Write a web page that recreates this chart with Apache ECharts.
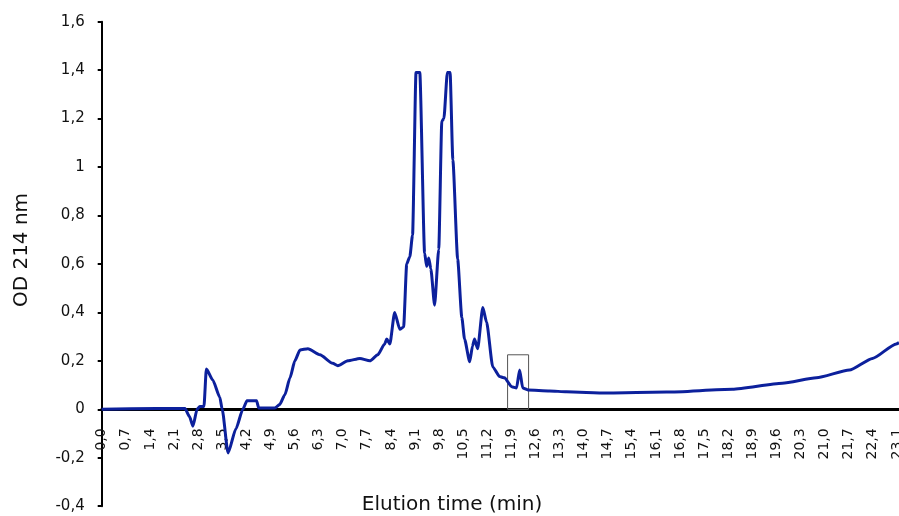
<!DOCTYPE html>
<html>
<head>
<meta charset="utf-8">
<script src="https://cdn.jsdelivr.net/npm/echarts@6/dist/echarts.min.js"></script>
<style>
  html, body { margin: 0; padding: 0; background: #fff; }
  #chart { width: 899px; height: 516px; }
</style>
</head>
<body>
<div id="chart"></div>
<script>
"use strict";
// elution time (min) and OD 214 nm
const times = [0, 1.6, 2.42, 2.55, 2.65, 2.77, 2.85, 2.97, 3.04, 3.23, 3.43, 3.5, 3.67, 3.9, 4.1, 4.22, 4.5, 4.56,
  5.03, 5.17, 5.32, 5.47, 5.61, 5.76, 5.99, 6.34, 6.71, 6.86, 7.15, 7.5, 7.79, 8.02, 8.22, 8.28, 8.37, 8.51,
  8.66, 8.77, 8.86, 8.95, 9.03, 9.13, 9.24, 9.38, 9.44, 9.5, 9.56, 9.67, 9.79, 9.88, 9.94, 10.04, 10.12, 10.2,
  10.34, 10.46, 10.54, 10.69, 10.77, 10.83, 10.92, 11.07, 11.18, 11.36, 11.56, 11.7, 11.91, 12.05, 12.14, 12.23,
  12.38, 13.01, 13.5, 14.66, 16.41, 18.32, 19.77, 20.76, 21.72, 22.39, 23.08, 23.16];
const od214 = [0, 0.003, 0.003, -0.03, -0.07, 0.0, 0.012, 0.012, 0.166, 0.12, 0.05, 0.0, -0.18, -0.08, 0.0, 0.035, 0.035, 0.005,
  0.005, 0.02, 0.06, 0.13, 0.2, 0.245, 0.25, 0.225, 0.19, 0.18, 0.2, 0.21, 0.2, 0.225, 0.27, 0.29, 0.27, 0.4,
  0.33, 0.34, 0.6, 0.63, 0.72, 1.39, 1.39, 0.645, 0.59, 0.625, 0.58, 0.43, 0.66, 1.19, 1.2, 1.39, 1.39, 1.03,
  0.62, 0.38, 0.29, 0.196, 0.26, 0.29, 0.25, 0.42, 0.36, 0.175, 0.135, 0.13, 0.093, 0.088, 0.162, 0.088,
  0.08, 0.076, 0.072, 0.067, 0.071, 0.083, 0.108, 0.13, 0.162, 0.21, 0.27, 0.275];
// boxed peak: [time from, time to], [od from, od to]
const boxTime = [11.79, 12.4];
const boxOd = [0, 0.225];

const fmtY = function (v) {
  return String(+v.toFixed(1)).replace('.', ',');
};
const fmtX = function (v) {
  return v.toFixed(1).replace('.', ',');
};

const chart = echarts.init(document.getElementById('chart'), null, { renderer: 'canvas' });
const points = times.map((t, i) => [t, od214[i]]);

chart.setOption({
  animation: false,
  textStyle: { fontFamily: 'DejaVu Sans' },
  grid: [
    // plot area
    { left: 101.7, right: 0, top: 21.7, bottom: 9.8, outerBoundsMode: 'none' },
    // label strip: its bottom edge sits on the zero line
    { left: 101.7, right: 0, top: 21.7, height: 387.6, outerBoundsMode: 'none' }
  ],
  xAxis: [{
    type: 'value',
    gridIndex: 0,
    min: 0,
    max: 23.16,
    interval: 0.7,
    axisLine: { onZero: true, lineStyle: { color: '#000', width: 3 } },
    axisTick: { show: false },
    splitLine: { show: false },
    axisLabel: { show: false }
  }, {
    type: 'value',
    gridIndex: 1,
    min: 0,
    max: 23.16,
    interval: 0.7,
    axisLine: { show: false },
    axisTick: { show: false },
    splitLine: { show: false },
    axisLabel: {
      rotate: 90, margin: 19, color: '#111', fontSize: 14,
      showMaxLabel: false, formatter: fmtX
    }
  }],
  yAxis: [{
    type: 'value',
    gridIndex: 0,
    min: -0.4,
    max: 1.6,
    interval: 0.2,
    axisLine: { show: true, lineStyle: { color: '#000', width: 2 } },
    axisTick: { show: true, inside: false, length: 4, lineStyle: { color: '#000', width: 2 } },
    splitLine: { show: false },
    axisLabel: { margin: 17, color: '#111', fontSize: 15, formatter: fmtY }
  }, {
    type: 'value',
    gridIndex: 1,
    min: 0,
    max: 1,
    show: false
  }],
  graphic: [
    {
      type: 'text', x: 452, y: 505,
      style: { text: 'Elution time (min)', font: '20px "DejaVu Sans"', fill: '#111', align: 'center', verticalAlign: 'middle' }
    },
    {
      type: 'text', x: 22, y: 250, rotation: Math.PI / 2,
      style: { text: 'OD 214 nm', font: '20px "DejaVu Sans"', fill: '#111', align: 'center', verticalAlign: 'middle' }
    }
  ],
  series: [{
    type: 'line',
    xAxisIndex: 0,
    yAxisIndex: 0,
    data: points,
    showSymbol: false,
    smooth: 0.2,
    smoothMonotone: 'x',
    lineStyle: { color: '#0c209c', width: 3 },
    markArea: {
      silent: true,
      itemStyle: { color: 'rgba(0,0,0,0)', borderColor: '#555', borderWidth: 1 },
      data: [[{ coord: [boxTime[0], boxOd[0]] }, { coord: [boxTime[1], boxOd[1]] }]]
    }
  }]
});
</script>
</body>
</html>
